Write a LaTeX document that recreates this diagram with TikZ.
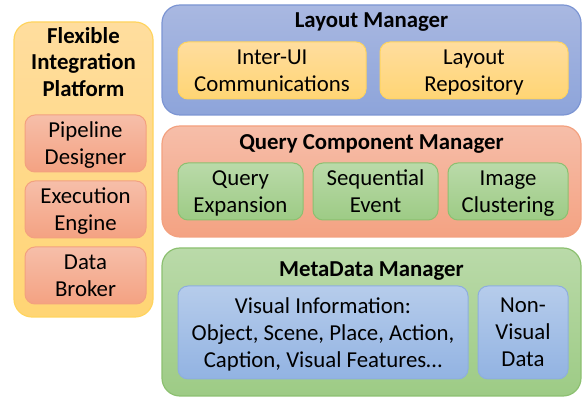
\documentclass[tikz,border=0pt]{standalone}
\usepackage{fontspec}
\setmainfont{Carlito}
\begin{document}
\begin{tikzpicture}[x=1pt,y=-1pt,
  txt/.style={font=\fontsize{22.8}{27}\selectfont, align=center, inner sep=0pt, text depth=0pt},
  ttl/.style={font=\fontsize{22.8}{26.5}\selectfont\bfseries, align=center, inner sep=0pt, text depth=0pt},
  outerbox/.style={rounded corners=18pt, line width=1.2pt, minimum width=#1, inner sep=0pt},
  innerbox/.style={rounded corners=10pt, line width=1pt, txt},
  yel/.style={draw=yelB, top color=yelT, bottom color=yelM},
  blu/.style={draw=bluB, top color=bluT, bottom color=bluM},
  sal/.style={draw=salB, top color=salT, bottom color=salM},
  grn/.style={draw=grnB, top color=grnT, bottom color=grnM},
  lbl/.style={draw=lblB, top color=lblT, bottom color=lblM},
]
\definecolor{yelB}{HTML}{FFD45E}
\definecolor{yelT}{HTML}{FFDD9E}
\definecolor{yelM}{HTML}{FFD574}
\definecolor{bluB}{HTML}{7C95D3}
\definecolor{bluT}{HTML}{A9B8E1}
\definecolor{bluM}{HTML}{8DA4DA}
\definecolor{salB}{HTML}{F3A17F}
\definecolor{salT}{HTML}{F6BEA9}
\definecolor{salM}{HTML}{F4A282}
\definecolor{grnB}{HTML}{8CC070}
\definecolor{grnT}{HTML}{BADAA9}
\definecolor{grnM}{HTML}{9DCB85}
\definecolor{lblB}{HTML}{8EAEDF}
\definecolor{lblT}{HTML}{B6CCEB}
\definecolor{lblM}{HTML}{92B3E2}
\useasboundingbox (0,0) rectangle (582,398);

% Flexible Integration Platform
\node[outerbox=139pt, minimum height=295pt, yel] (plat) at (83.5,169.5) {};
\node[ttl] (plattitle) at (83.5,62) {Flexible\\Integration\\Platform};
\node[innerbox, sal, minimum width=121pt, minimum height=57pt] (pipe) at (85.5,143.5) {Pipeline\\Designer};
\node[innerbox, sal, minimum width=121pt, minimum height=57pt] (exec) at (85.5,209.5) {Execution\\Engine};
\node[innerbox, sal, minimum width=121pt, minimum height=57pt] (broker) at (85.5,275.5) {Data\\Broker};

% Layout Manager
\node[outerbox=419pt, minimum height=110pt, blu] (lm) at (371.5,60) {};
\node[ttl] (lmtitle) at (371.5,20.5) {Layout Manager};
\node[innerbox, yel, minimum width=188pt, minimum height=57pt] (interui) at (272,70.5) {Inter-UI\\Communications};
\node[innerbox, yel, minimum width=188pt, minimum height=57pt] (layrep) at (474,70.5) {Layout\\Repository};

% Query Component Manager
\node[outerbox=419pt, minimum height=111pt, sal] (qcm) at (371.5,181.5) {};
\node[ttl] (qcmtitle) at (371.5,142.5) {Query Component Manager};
\node[innerbox, grn, minimum width=125pt, minimum height=57pt] (qexp) at (240.5,191.5) {Query\\Expansion};
\node[innerbox, grn, minimum width=125pt, minimum height=57pt] (seq) at (375.5,191.5) {Sequential\\Event};
\node[innerbox, grn, minimum width=120pt, minimum height=57pt] (img) at (508,191.5) {Image\\Clustering};

% MetaData Manager
\node[outerbox=419pt, minimum height=148pt, grn] (mdm) at (371.5,322) {};
\node[ttl] (mdmtitle) at (371.5,269.5) {MetaData Manager};
\node[innerbox, lbl, minimum width=290pt, minimum height=93pt] (vis) at (323,332.5) {Visual Information:\\Object, Scene, Place, Action,\\Caption, Visual Features\dots};
\node[innerbox, lbl, minimum width=90pt, minimum height=93pt] (nonvis) at (523,332.5) {Non-\\Visual\\Data};
\end{tikzpicture}
\end{document}
